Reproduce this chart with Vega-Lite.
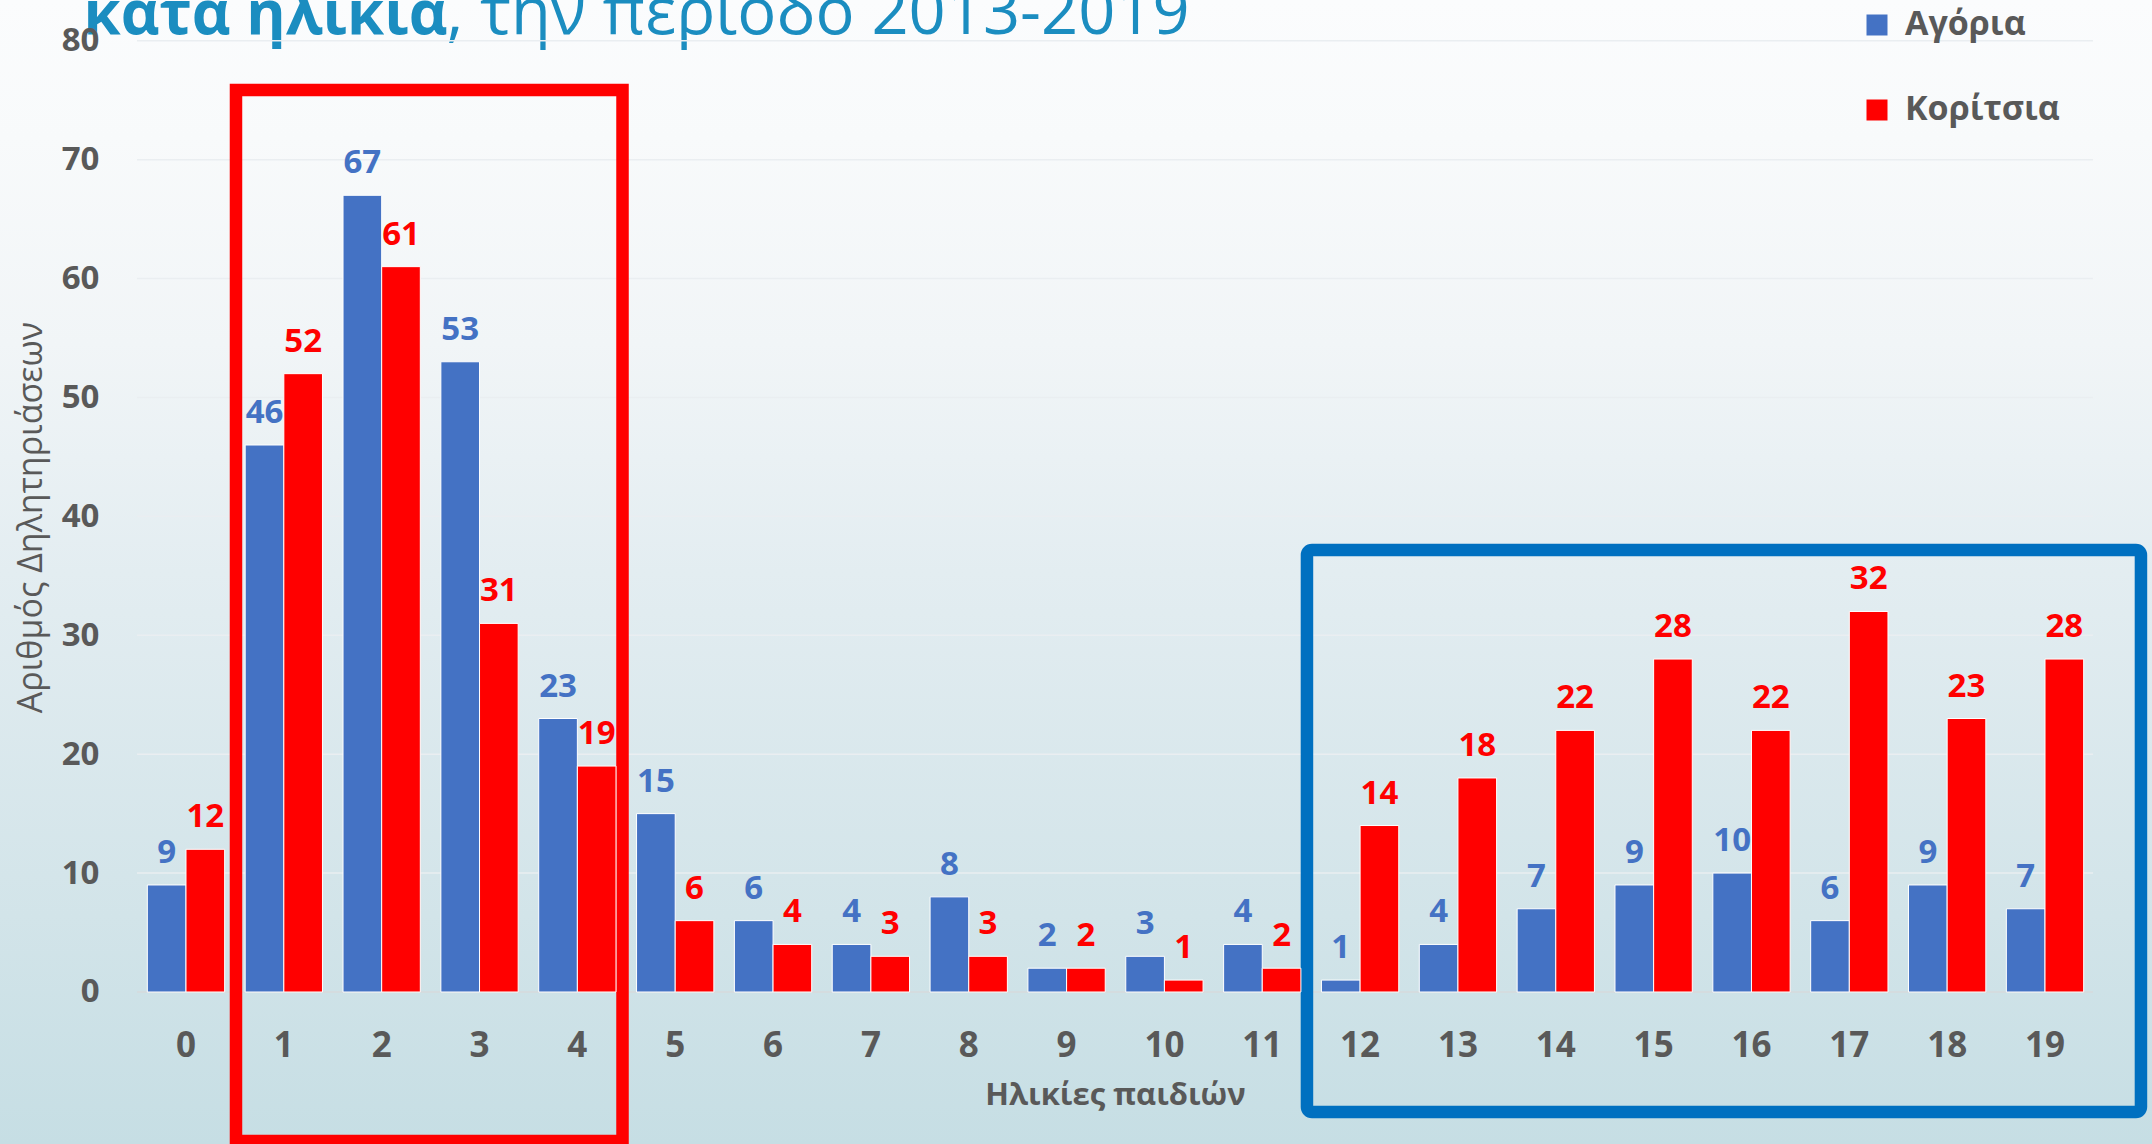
{
  "$schema": "https://vega.github.io/schema/vega-lite/v6.json",
  "width": 2152,
  "height": 1144,
  "autosize": {"type": "none"},
  "padding": 0,
  "background": "#E4EEF2",
  "view": {
    "stroke": null,
    "fill": {
      "gradient": "linear", "x1": 0, "y1": 0, "x2": 0, "y2": 1,
      "stops": [
        {"offset": 0, "color": "#FBFCFD"},
        {"offset": 0.12, "color": "#F8FAFB"},
        {"offset": 0.3, "color": "#F1F5F7"},
        {"offset": 0.5, "color": "#E3EDF1"},
        {"offset": 0.8, "color": "#D2E4E9"},
        {"offset": 1, "color": "#C6DEE4"}
      ]
    }
  },
  "datasets": {
    "bars": [
      {"age": 0, "sex": "Αγόρια", "n": 9}, {"age": 0, "sex": "Κορίτσια", "n": 12},
      {"age": 1, "sex": "Αγόρια", "n": 46}, {"age": 1, "sex": "Κορίτσια", "n": 52},
      {"age": 2, "sex": "Αγόρια", "n": 67}, {"age": 2, "sex": "Κορίτσια", "n": 61},
      {"age": 3, "sex": "Αγόρια", "n": 53}, {"age": 3, "sex": "Κορίτσια", "n": 31},
      {"age": 4, "sex": "Αγόρια", "n": 23}, {"age": 4, "sex": "Κορίτσια", "n": 19},
      {"age": 5, "sex": "Αγόρια", "n": 15}, {"age": 5, "sex": "Κορίτσια", "n": 6},
      {"age": 6, "sex": "Αγόρια", "n": 6}, {"age": 6, "sex": "Κορίτσια", "n": 4},
      {"age": 7, "sex": "Αγόρια", "n": 4}, {"age": 7, "sex": "Κορίτσια", "n": 3},
      {"age": 8, "sex": "Αγόρια", "n": 8}, {"age": 8, "sex": "Κορίτσια", "n": 3},
      {"age": 9, "sex": "Αγόρια", "n": 2}, {"age": 9, "sex": "Κορίτσια", "n": 2},
      {"age": 10, "sex": "Αγόρια", "n": 3}, {"age": 10, "sex": "Κορίτσια", "n": 1},
      {"age": 11, "sex": "Αγόρια", "n": 4}, {"age": 11, "sex": "Κορίτσια", "n": 2},
      {"age": 12, "sex": "Αγόρια", "n": 1}, {"age": 12, "sex": "Κορίτσια", "n": 14},
      {"age": 13, "sex": "Αγόρια", "n": 4}, {"age": 13, "sex": "Κορίτσια", "n": 18},
      {"age": 14, "sex": "Αγόρια", "n": 7}, {"age": 14, "sex": "Κορίτσια", "n": 22},
      {"age": 15, "sex": "Αγόρια", "n": 9}, {"age": 15, "sex": "Κορίτσια", "n": 28},
      {"age": 16, "sex": "Αγόρια", "n": 10}, {"age": 16, "sex": "Κορίτσια", "n": 22},
      {"age": 17, "sex": "Αγόρια", "n": 6}, {"age": 17, "sex": "Κορίτσια", "n": 32},
      {"age": 18, "sex": "Αγόρια", "n": 9}, {"age": 18, "sex": "Κορίτσια", "n": 23},
      {"age": 19, "sex": "Αγόρια", "n": 7}, {"age": 19, "sex": "Κορίτσια", "n": 28}
    ],
    "grid": [
      {"tick": 0}, {"tick": 10}, {"tick": 20}, {"tick": 30}, {"tick": 40},
      {"tick": 50}, {"tick": 60}, {"tick": 70}, {"tick": 80}
    ],
    "boxes": [
      {"box": "νήπια", "from": 1, "to": 4},
      {"box": "έφηβοι", "from": 12, "to": 19}
    ]
  },
  "resolve": {"axis": {"x": "independent", "y": "independent"}},
  "layer": [
    {
      "data": {"name": "grid"},
      "mark": {"type": "rule", "strokeWidth": 1.5, "xOffset": -10.3, "x2Offset": 9.3},
      "encoding": {
        "y": {"field": "tick", "type": "quantitative", "axis": null,
              "scale": {"domain": [-12.783, 83.424], "nice": false, "zero": false}},
        "x": {"datum": 0, "type": "ordinal", "bandPosition": 0, "axis": null,
              "scale": {"type": "band", "domain": [0,1,2,3,4,5,6,7,8,9,10,11,12,13,14,15,16,17,18,19],
                        "range": [137.07, 2093.93], "paddingInner": 0.21, "paddingOuter": 0.105}},
        "x2": {"datum": 19, "bandPosition": 1},
        "stroke": {"condition": {"test": "datum.tick === 0", "value": "#D6DADD"}, "value": "#EAEEF1"}
      }
    },
    {
      "data": {"name": "boxes"},
      "transform": [{"filter": "datum.from === 1"}],
      "mark": {"type": "rect", "filled": false, "stroke": "#FF0000", "strokeWidth": 12.5,
               "xOffset": -9.2, "x2Offset": 6.5},
      "encoding": {
        "x": {"field": "from", "type": "ordinal", "bandPosition": 0, "axis": null},
        "x2": {"field": "to", "bandPosition": 1},
        "y": {"datum": 75.85, "type": "quantitative", "axis": null},
        "y2": {"datum": -12.53}
      }
    },
    {
      "data": {"name": "boxes"},
      "transform": [{"filter": "datum.from === 12"}],
      "mark": {"type": "rect", "filled": false, "stroke": "#0070C0", "strokeWidth": 12.5,
               "cornerRadius": 5, "xOffset": -14.5, "x2Offset": 57.3},
      "encoding": {
        "x": {"field": "from", "type": "ordinal", "bandPosition": 0, "axis": null},
        "x2": {"field": "to", "bandPosition": 1},
        "y": {"datum": 37.17, "type": "quantitative", "axis": null},
        "y2": {"datum": -10.09}
      }
    },
    {
      "data": {"name": "bars"},
      "mark": {"type": "bar", "stroke": "#FFFFFF", "strokeWidth": 1},
      "encoding": {
        "x": {
          "field": "age", "type": "ordinal",
          "axis": {
            "orient": "bottom", "offset": -152, "labelAngle": 0, "ticks": false, "domain": false, "grid": false,
            "labelPadding": 64, "labelBaseline": "alphabetic",
            "labelFont": "Open Sans", "labelFontWeight": "bold", "labelFontSize": 35, "labelColor": "#595959",
            "title": "Ηλικίες παιδιών", "titleX": 1115, "titleY": 112, "titleAlign": "center",
            "titleBaseline": "alphabetic", "titleFont": "Open Sans", "titleFontWeight": "bold",
            "titleFontSize": 31, "titleColor": "#595959"
          }
        },
        "xOffset": {"field": "sex", "type": "nominal", "scale": {"domain": ["Αγόρια", "Κορίτσια"], "paddingInner": 0}},
        "y": {
          "field": "n", "type": "quantitative",
          "axis": {
            "orient": "left", "offset": -136, "values": [0,10,20,30,40,50,60,70,80],
            "ticks": false, "domain": false, "grid": false, "labelPadding": 37,
            "labelFont": "Open Sans", "labelFontWeight": "bold", "labelFontSize": 33, "labelColor": "#595959",
            "title": "Αριθμός Δηλητηριάσεων", "titleX": -95, "titleY": 517, "titleAngle": -90,
            "titleAlign": "center", "titleBaseline": "alphabetic", "titleFont": "Open Sans",
            "titleFontWeight": "normal", "titleFontSize": 34, "titleColor": "#595959"
          }
        },
        "color": {
          "field": "sex", "type": "nominal",
          "scale": {"domain": ["Αγόρια", "Κορίτσια"], "range": ["#4472C4", "#FF0000"]},
          "legend": {
            "orient": "none", "legendX": 1860, "legendY": 8, "title": null, "direction": "vertical",
            "symbolType": "square", "symbolSize": 441, "symbolStrokeWidth": 0,
            "labelFont": "Open Sans", "labelFontWeight": "bold", "labelFontSize": 34, "labelColor": "#595959",
            "labelOffset": 11, "rowPadding": 51, "padding": 0
          }
        }
      }
    },
    {
      "data": {"name": "bars"},
      "mark": {"type": "text", "font": "Open Sans", "fontWeight": "bold", "fontSize": 33,
               "baseline": "alphabetic", "dy": -22},
      "encoding": {
        "x": {
          "field": "age", "type": "ordinal",
          "axis": {
            "orient": "top", "labels": false, "ticks": false, "domain": false, "grid": false,
            "title": "κατά ηλικία", "titleX": 83, "titleY": 33, "titleAngle": 0, "titleAlign": "left",
            "titleBaseline": "alphabetic", "titleFont": "Open Sans", "titleFontWeight": "bold",
            "titleFontSize": 60, "titleColor": "#1B8DC0"
          }
        },
        "xOffset": {"field": "sex", "type": "nominal"},
        "y": {
          "field": "n", "type": "quantitative",
          "axis": {
            "orient": "right", "labels": false, "ticks": false, "domain": false, "grid": false,
            "title": ", την περίοδο 2013-2019", "titleX": -1706, "titleY": 33, "titleAngle": 0,
            "titleAlign": "left", "titleBaseline": "alphabetic", "titleFont": "Open Sans",
            "titleFontWeight": "normal", "titleFontSize": 65, "titleColor": "#1B8DC0"
          }
        },
        "text": {"field": "n", "type": "quantitative"},
        "color": {"condition": {"test": "datum.sex === 'Αγόρια'", "value": "#4472C4"}, "value": "#FF0000"}
      }
    }
  ]
}
